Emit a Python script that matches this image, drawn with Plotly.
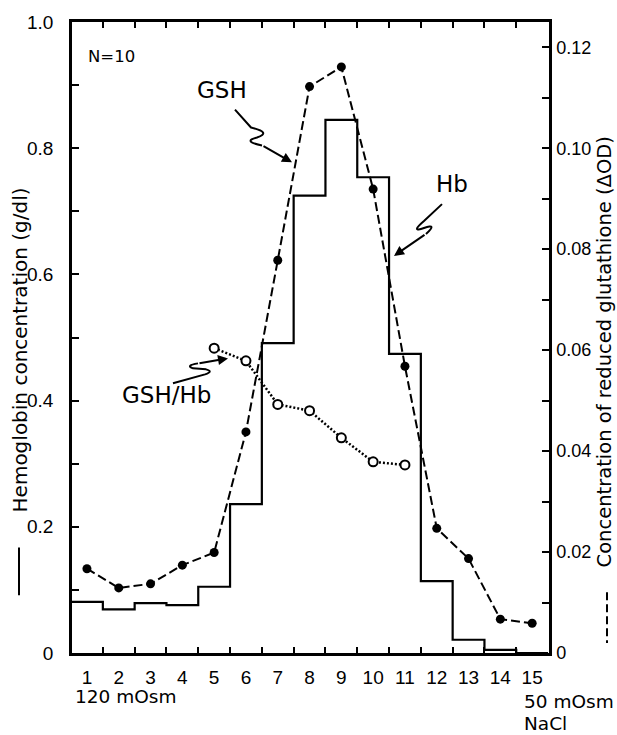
import plotly.graph_objects as go

# ---- data ----
fractions = list(range(1, 16))
hb = [0.081, 0.069, 0.079, 0.076, 0.105, 0.236, 0.491, 0.725, 0.845, 0.754,
      0.474, 0.114, 0.021, 0.005, 0.0]
gsh = [0.0167, 0.0129, 0.0137, 0.0174, 0.0199, 0.0438, 0.0778, 0.1122, 0.1161,
       0.0919, 0.0568, 0.0247, 0.0187, 0.0067, 0.0059]
ratio_fractions = [5, 6, 7, 8, 9, 10, 11]
gsh_hb = [0.483, 0.463, 0.394, 0.384, 0.341, 0.303, 0.298]

left_ticks = [round(i * 0.1, 1) for i in range(11)]
left_labels = ["0", "", "0.2", "", "0.4", "", "0.6", "", "0.8", "", "1.0"]
right_ticks = [round(i * 0.01, 2) for i in range(13)]
right_labels = ["0", "", "0.02", "", "0.04", "", "0.06", "", "0.08", "", "0.10", "", "0.12"]

FONT = "DejaVu Sans"
TICKFONT = "Liberation Sans"
W, H = 617, 735
L, R, T, B = 72, 68, 19, 82
PW, PH = W - L - R, H - T - B


def px(x):
    return (x - L) / PW


def py(y):
    return (H - B - y) / PH


# step outline for Hb built from the fraction edges
step_x = [f - 0.5 for f in fractions] + [fractions[-1] + 0.5]
step_y = hb + [hb[-1]]

fig = go.Figure()
fig.add_trace(go.Scatter(x=step_x, y=step_y, mode="lines", line_shape="hv",
                         line=dict(color="black", width=2.2), yaxis="y",
                         showlegend=False, hoverinfo="skip"))
fig.add_trace(go.Scatter(x=fractions, y=gsh, mode="lines+markers", yaxis="y2",
                         line=dict(color="black", width=2, dash="9px,4px"),
                         marker=dict(color="black", size=9),
                         showlegend=False))
fig.add_trace(go.Scatter(x=ratio_fractions, y=gsh_hb, mode="lines+markers", yaxis="y",
                         line=dict(color="black", width=2.5, dash="2px,2px"),
                         marker=dict(color="white", size=9, line=dict(color="black", width=2)),
                         showlegend=False))

fig.update_layout(
    width=W, height=H,
    margin=dict(l=L, r=R, t=T, b=B),
    paper_bgcolor="white", plot_bgcolor="white",
    font=dict(family=FONT, color="black", size=18),
    xaxis=dict(range=[0.53, 15.53], tickmode="array", tickvals=fractions,
               ticktext=[str(f) for f in fractions], ticks="", showgrid=False,
               zeroline=False, showline=True, linecolor="black", linewidth=2.5,
               mirror="ticks",
               minor=dict(tickvals=[f + 0.5 for f in fractions[:-1]], ticks="inside",
                          ticklen=6, tickwidth=2, tickcolor="black", showgrid=False),
               tickfont=dict(size=19, family=TICKFONT), ticklabelstandoff=5),
    yaxis=dict(range=[0, 1.0], tickmode="array", tickvals=left_ticks, ticktext=left_labels,
               ticks="inside", ticklen=7, tickwidth=2, tickcolor="black", showgrid=False,
               zeroline=False, showline=True, linecolor="black", linewidth=2.5,
               tickfont=dict(size=19, family=TICKFONT), ticklabelstandoff=12),
    yaxis2=dict(range=[0, 0.125], overlaying="y", side="right", tickmode="array",
                tickvals=right_ticks, ticktext=right_labels, ticks="inside", ticklen=7,
                tickwidth=2, tickcolor="black", showgrid=False, zeroline=False,
                showline=True, linecolor="black", linewidth=2.5,
                tickfont=dict(size=18, family=TICKFONT), ticklabelstandoff=1),
)


def label(text, x, y, size, angle=0, anchor="center"):
    return dict(text=text, x=px(x), y=py(y), xref="paper", yref="paper",
                xanchor=anchor, yanchor="middle", textangle=angle,
                showarrow=False, font=dict(size=size))


ann = [
    label("N=10", 111, 54, 16.5),
    label("GSH", 222, 87, 23),
    label("Hb", 452, 182, 23),
    label("GSH/Hb", 166, 394, 23),
    label("120 mOsm", 73, 697, 18.5, anchor="left"),
    label("50 mOsm", 522, 702, 18.5, anchor="left"),
    label("NaCl", 522, 724, 18.5, anchor="left"),
    label("Hemoglobin concentration (g/dl)", 20, 349, 20, angle=-90),
    label("Concentration of reduced glutathione (\u0394OD)", 604, 351, 19.5, angle=-90),
]
# arrowheads of the squiggle pointers
for tip, tail in [((292, 160), (262, 143)), ((394, 254), (426, 232)), ((228, 357), (198, 362))]:
    ann.append(dict(text="", x=px(tip[0]), y=py(tip[1]), xref="paper", yref="paper",
                    ax=tail[0] - tip[0], ay=tail[1] - tip[1], showarrow=True,
                    arrowhead=2, arrowsize=1, arrowwidth=2, arrowcolor="black"))
fig.update_layout(annotations=ann)


def path(points):
    segs = []
    for p in points:
        cmd = p[0]
        coords = p[1:]
        s = cmd + " " + " ".join("%.4f %.4f" % (px(coords[j]), py(coords[j + 1]))
                                 for j in range(0, len(coords), 2))
        segs.append(s)
    return " ".join(segs)


squiggles = [
    [("M", 235, 107), ("L", 251, 125), ("Q", 272, 130, 257, 135),
     ("Q", 242, 139, 262, 143)],
    [("M", 442, 202), ("L", 424, 219), ("Q", 410, 231, 424, 226),
     ("Q", 438, 221, 426, 232)],
    [("M", 173, 382), ("L", 205, 373), ("Q", 214, 370, 206, 368),
     ("L", 193, 367), ("Q", 185, 364, 198, 362)],
]
shapes = []
for sq in squiggles:
    shapes.append(dict(type="path", xref="paper", yref="paper", path=path(sq),
                       line=dict(color="black", width=2)))
# legend line marks under the axis titles
shapes.append(dict(type="line", xref="paper", yref="paper", x0=px(19), x1=px(19),
                   y0=py(547), y1=py(595), line=dict(color="black", width=2)))
shapes.append(dict(type="line", xref="paper", yref="paper", x0=px(607), x1=px(607),
                   y0=py(592), y1=py(643), line=dict(color="black", width=2, dash="8px,4px")))
fig.update_layout(shapes=shapes)

fig.write_html("out.html")
